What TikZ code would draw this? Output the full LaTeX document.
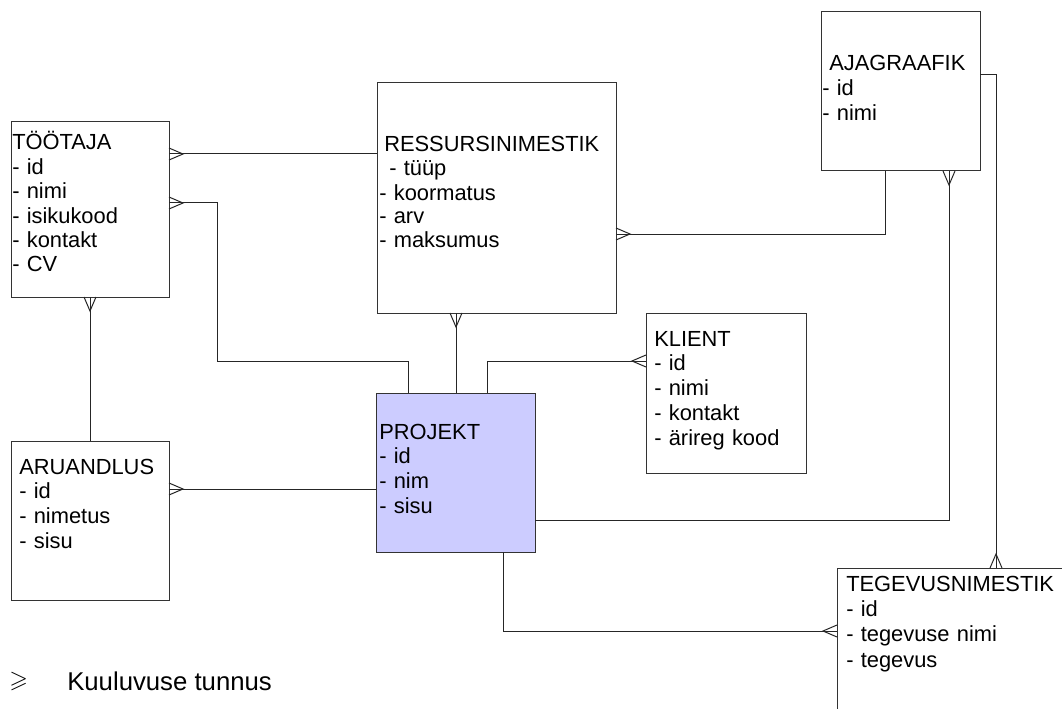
\documentclass[tikz,border=0pt]{standalone}
\usepackage{amssymb}
\usepackage{fontspec}
\setmainfont{Liberation Sans}
\usetikzlibrary{calc}
\definecolor{projfill}{HTML}{CCCCFF}
\newcommand\erdcrow[3]{\draw[conn] ($(#1)+({6*#3},{6*#2})$) -- ($(#1)+({14*#2},{14*#3})$) -- ($(#1)+({-6*#3},{-6*#2})$);}
\begin{document}
\begin{tikzpicture}[x=0.75pt,y=-0.75pt,
  ent/.style 2 args={draw=black!80, line width=0.75pt, fill=white, rectangle, inner sep=0pt, outer sep=0pt, anchor=north west, minimum width={#1*0.75pt}, minimum height={#2*0.75pt}},
  conn/.style={draw=black!85, line width=0.75pt},
  txt/.style={anchor=base west, inner sep=0pt, text width=300pt, align=left, font=\fontsize{16.4}{#1}\selectfont},
]
\useasboundingbox (0,0) rectangle (1062,709);
\clip (0,0) rectangle (1062,709);

% entity boxes
\node[ent={158}{175}] (toot) at (11,122) {};
\node[ent={239}{230}] (res) at (377,83) {};
\node[ent={159}{159}] (aja) at (821,12) {};
\node[ent={160}{160}] (kli) at (646,313) {};
\node[ent={159}{159}, fill=projfill] (proj) at (376,393) {};
\node[ent={158}{159}] (aru) at (11,441) {};
\node[ent={300}{200}] (teg) at (837,568) {};

% texts
\node[txt=18.3] (tootT) at ($(toot.north west)+(1,28)$) {TÖÖTAJA\\- id\\- nimi\\- isikukood\\- kontakt\\- CV};
\node[txt=18] (resT) at ($(res.north west)+(2,69)$) {\hspace*{3.75pt}RESSURSINIMESTIK\\\hspace*{7.5pt}- tüüp\\- koormatus\\- arv\\- maksumus};
\node[txt=18.5] (ajaT) at ($(aja.north west)+(1,59)$) {\hspace*{5.25pt}AJAGRAAFIK\\- id\\- nimi};
\node[txt=18.6] (kliT) at ($(kli.north west)+(8,33)$) {KLIENT\\- id\\- nimi\\- kontakt\\- ärireg kood};
\node[txt=18.5] (projT) at ($(proj.north west)+(3,46)$) {PROJEKT\\- id\\- nim\\- sisu};
\node[txt=18.5] (aruT) at ($(aru.north west)+(8,33)$) {ARUANDLUS\\- id\\- nimetus\\- sisu};
\node[txt=19.1] (tegT) at ($(teg.north west)+(9,23)$) {TEGEVUSNIMESTIK\\- id\\- tegevuse nimi\\- tegevus};

% connection points
\coordinate (p1) at ($(toot.north east)+(0,32)$);
\coordinate (p2) at ($(toot.north east)+(0,81)$);
\coordinate (q2) at ($(proj.north west)+(32,0)$);
\coordinate (p3) at ($(res.south west)+(79,0)$);
\coordinate (p4) at ($(kli.north west)+(0,48)$);
\coordinate (q4) at ($(proj.north west)+(111,0)$);
\coordinate (p5) at ($(res.north east)+(0,151)$);
\coordinate (q5) at ($(aja.south west)+(64,0)$);
\coordinate (p6) at ($(aja.south west)+(128,0)$);
\coordinate (q6) at ($(proj.north east)+(0,127)$);
\coordinate (p7) at ($(teg.north west)+(159,0)$);
\coordinate (q7) at ($(aja.north east)+(0,63)$);
\coordinate (p8) at ($(teg.north west)+(0,63)$);
\coordinate (q8) at ($(proj.south west)+(127,0)$);
\coordinate (p9) at ($(toot.south west)+(79,0)$);
\coordinate (p10) at ($(aru.north east)+(0,48)$);

% connectors
\draw[conn] (p1) -- (p1 -| res.west);
\draw[conn] (p2) -- ++(48,0) -- ++(0,158) -| (q2);
\draw[conn] (p3) -- (p3 |- proj.north);
\draw[conn] (p4) -| (q4);
\draw[conn] (p5) -| (q5);
\draw[conn] (q6) -| (p6);
\draw[conn] (q7) -| (p7);
\draw[conn] (q8) |- (p8);
\draw[conn] (p9) -- (p9 |- aru.north);
\draw[conn] (p10) -- (p10 -| proj.west);

% crow's feet
\erdcrow{p1}{1}{0}
\erdcrow{p2}{1}{0}
\erdcrow{p3}{0}{1}
\erdcrow{p4}{-1}{0}
\erdcrow{p5}{1}{0}
\erdcrow{p6}{0}{1}
\erdcrow{p7}{0}{-1}
\erdcrow{p8}{-1}{0}
\erdcrow{p9}{0}{1}
\erdcrow{p10}{1}{0}

% legend
\node[anchor=base west, inner sep=0pt] (bul) at (9,687) {\fontsize{18}{20}\selectfont$\geqslant$};
\node[anchor=base west, inner sep=0pt, font=\fontsize{19.3}{22}\selectfont] (leg) at (67,690) {Kuuluvuse tunnus};
\end{tikzpicture}
\end{document}
